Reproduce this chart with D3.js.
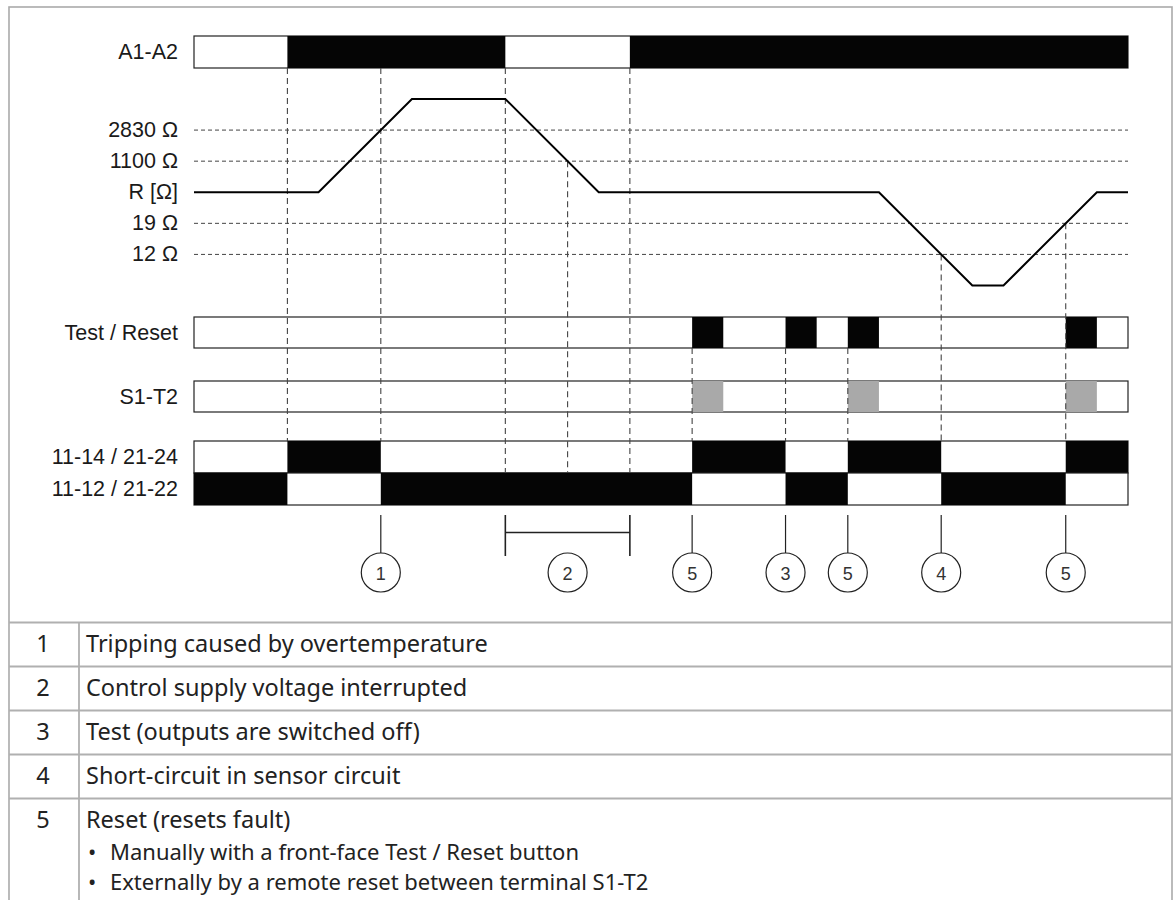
<!DOCTYPE html>
<html>
<head>
<meta charset="utf-8">
<script src="https://cdn.jsdelivr.net/npm/d3@7"></script>
<style>
  body { margin: 0; background: #fff; }
  svg { display: block; }
</style>
</head>
<body>
<svg id="chart"></svg>
<script>
// time axis runs in equal steps, 0..30
const timeSteps = 30;

// signal rows: intervals where the signal is active
const a1a2On = [[3, 10], [14, 30]];
const testResetOn = [[16, 17], [19, 20], [21, 22], [28, 29]];
const s1t2On = [[16, 17], [21, 22], [28, 29]];
const out1114On = [[3, 6], [16, 19], [21, 24], [28, 30]];
const out1112On = [[0, 3], [6, 16], [19, 21], [24, 28]];

// sensor resistance, as [time, level]; level 0 = normal R
const resistance = [[0, 0], [4, 0], [7, 3], [10, 3], [13, 0], [22, 0], [25, -3], [26, -3], [29, 0], [30, 0]];
const levelLabels = [
    { level: 2, label: "2830 Ω" },
    { level: 1, label: "1100 Ω" },
    { level: 0, label: "R [Ω]" },
    { level: -1, label: "19 Ω" },
    { level: -2, label: "12 Ω" }
];
const thresholdLevels = [2, 1, -1, -2];

// dashed guides: time, where they start (row name or resistance level), row where they end
const guides = [
    { t: 3, from: "A1-A2", to: "11-14 / 21-24" },
    { t: 6, from: "A1-A2", to: "11-14 / 21-24" },
    { t: 10, from: "A1-A2", to: "11-12 / 21-22" },
    { t: 12, from: 1, to: "11-12 / 21-22" },
    { t: 14, from: "A1-A2", to: "11-12 / 21-22" },
    { t: 16, from: "Test / Reset", to: "11-14 / 21-24" },
    { t: 19, from: "Test / Reset", to: "11-14 / 21-24" },
    { t: 21, from: "Test / Reset", to: "11-14 / 21-24" },
    { t: 24, from: -2, to: "11-14 / 21-24" },
    { t: 28, from: -1, to: "11-14 / 21-24" }
];

// numbered callouts under the diagram
const markers = [
    { t: 6, label: "1" },
    { t: 16, label: "5" },
    { t: 19, label: "3" },
    { t: 21, label: "5" },
    { t: 24, label: "4" },
    { t: 28, label: "5" }
];
const spanMarker = { t0: 10, t1: 14, label: "2" };

// legend table
const noteNumbers = ["1", "2", "3", "4", "5"];
const noteTexts = [
    "Tripping caused by overtemperature",
    "Control supply voltage interrupted",
    "Test (outputs are switched off)",
    "Short-circuit in sensor circuit",
    "Reset (resets fault)"
];
const resetBullets = [
    "Manually with a front-face Test / Reset button",
    "Externally by a remote reset between terminal S1-T2"
];

const W = 1175, H = 900;
const svg = d3.select("#chart").attr("width", W).attr("height", H);

const x = d3.scaleLinear().domain([0, timeSteps]).range([194, 1128]);
const yLevel = d3.scaleLinear().domain([-3, 3]).range([285.5, 99]);

// row layout
const rows = [
    { name: "A1-A2", top: 36, h: 32, on: a1a2On, fill: "#050505" },
    { name: "Test / Reset", top: 317, h: 31, on: testResetOn, fill: "#050505" },
    { name: "S1-T2", top: 381, h: 31, on: s1t2On, fill: "#a9a9a9" },
    { name: "11-14 / 21-24", top: 441, h: 32, on: out1114On, fill: "#050505" },
    { name: "11-12 / 21-22", top: 473, h: 32, on: out1112On, fill: "#050505" }
];
const rowByName = {};
rows.forEach(r => rowByName[r.name] = r);

const labelFont = "'Liberation Sans', Arial, sans-serif";
const labelSize = 21.5;
const labelX = 178;

// outer frame
svg.append("rect")
    .attr("x", 9).attr("y", 7)
    .attr("width", 1163).attr("height", H + 20)
    .attr("fill", "none")
    .attr("stroke", "#aaa")
    .attr("stroke-width", 1.6);

// threshold dashed lines
svg.append("g").selectAll("line")
    .data(thresholdLevels)
    .join("line")
    .attr("x1", x(0)).attr("x2", x(timeSteps))
    .attr("y1", d => yLevel(d)).attr("y2", d => yLevel(d))
    .attr("stroke", "#444")
    .attr("stroke-width", 1)
    .attr("stroke-dasharray", "4,3");

// signal rows
const rowG = svg.append("g").selectAll("g")
    .data(rows)
    .join("g");

rowG.append("rect")
    .attr("x", x(0)).attr("y", d => d.top)
    .attr("width", x(timeSteps) - x(0)).attr("height", d => d.h)
    .attr("fill", "#fff")
    .attr("stroke", "#222")
    .attr("stroke-width", 1.2);

// guides
svg.append("g").selectAll("line")
    .data(guides)
    .join("line")
    .attr("x1", d => x(d.t)).attr("x2", d => x(d.t))
    .attr("y1", d => typeof d.from === "number" ? yLevel(d.from) : rowByName[d.from].top + rowByName[d.from].h)
    .attr("y2", d => rowByName[d.to].top)
    .attr("stroke", "#444")
    .attr("stroke-width", 1.1)
    .attr("stroke-dasharray", "6,4");

rowG.each(function (r) {
    d3.select(this).selectAll("rect.on")
        .data(r.on)
        .join("rect")
        .attr("class", "on")
        .attr("x", d => x(d[0]))
        .attr("y", r.top)
        .attr("width", d => x(d[1]) - x(d[0]))
        .attr("height", r.h)
        .attr("fill", r.fill);
});

rowG.append("text")
    .attr("x", labelX)
    .attr("y", d => d.top + d.h / 2)
    .attr("text-anchor", "end")
    .attr("dominant-baseline", "central")
    .attr("font-family", labelFont)
    .attr("font-size", labelSize)
    .attr("fill", "#1a1a1a")
    .text(d => d.name);

// resistance labels
svg.append("g").selectAll("text")
    .data(levelLabels)
    .join("text")
    .attr("x", labelX)
    .attr("y", d => yLevel(d.level))
    .attr("text-anchor", "end")
    .attr("dominant-baseline", "central")
    .attr("font-family", labelFont)
    .attr("font-size", labelSize)
    .attr("fill", "#1a1a1a")
    .text(d => d.label);

// resistance curve
const line = d3.line().x(d => x(d[0])).y(d => yLevel(d[1]));
svg.append("path")
    .datum(resistance)
    .attr("d", line)
    .attr("fill", "none")
    .attr("stroke", "#000")
    .attr("stroke-width", 2);

// callouts
const calloutTop = 515, calloutCy = 572.5, calloutR = 19.5;
const callG = svg.append("g").selectAll("g")
    .data(markers)
    .join("g");
callG.append("line")
    .attr("x1", d => x(d.t)).attr("x2", d => x(d.t))
    .attr("y1", calloutTop).attr("y2", calloutCy - calloutR)
    .attr("stroke", "#222").attr("stroke-width", 1.2);

function circleLabel(sel, cx, label) {
    sel.append("circle")
        .attr("cx", cx).attr("cy", calloutCy).attr("r", calloutR)
        .attr("fill", "#fff").attr("stroke", "#222").attr("stroke-width", 1.2);
    sel.append("text")
        .attr("x", cx).attr("y", calloutCy + 1)
        .attr("text-anchor", "middle")
        .attr("dominant-baseline", "central")
        .attr("font-family", labelFont)
        .attr("font-size", 18)
        .attr("fill", "#333")
        .text(label);
}
callG.each(function (d) { circleLabel(d3.select(this), x(d.t), d.label); });

// span callout (2)
const spanG = svg.append("g");
spanG.append("line")
    .attr("x1", x(spanMarker.t0)).attr("x2", x(spanMarker.t1))
    .attr("y1", 532.5).attr("y2", 532.5)
    .attr("stroke", "#222").attr("stroke-width", 1.6);
spanG.selectAll("line.tick")
    .data([spanMarker.t0, spanMarker.t1])
    .join("line")
    .attr("class", "tick")
    .attr("x1", d => x(d)).attr("x2", d => x(d))
    .attr("y1", calloutTop).attr("y2", 556)
    .attr("stroke", "#222").attr("stroke-width", 1.6);
circleLabel(spanG, x((spanMarker.t0 + spanMarker.t1) / 2), spanMarker.label);

// legend table
const tableFont = "'Noto Sans', 'Open Sans', sans-serif";
const tableTop = 622.5, rowH = 44, colX = 79;
const tableLineColor = "#b0b0b0";

const sepY = d3.range(noteNumbers.length).map(i => tableTop + i * rowH);
svg.append("g").selectAll("line")
    .data(sepY)
    .join("line")
    .attr("x1", 9).attr("x2", 1172)
    .attr("y1", d => d).attr("y2", d => d)
    .attr("stroke", tableLineColor).attr("stroke-width", 1.8);
svg.append("line")
    .attr("x1", colX).attr("x2", colX)
    .attr("y1", tableTop).attr("y2", H)
    .attr("stroke", tableLineColor).attr("stroke-width", 1.8);

const noteG = svg.append("g")
    .attr("font-family", tableFont)
    .attr("font-size", 23.5)
    .attr("fill", "#222");

noteG.selectAll("text.num")
    .data(noteNumbers)
    .join("text")
    .attr("class", "num")
    .attr("x", 43)
    .attr("y", (d, i) => tableTop + i * rowH + 20)
    .attr("text-anchor", "middle")
    .attr("dominant-baseline", "central")
    .text(d => d);

noteG.selectAll("text.note")
    .data(noteTexts)
    .join("text")
    .attr("class", "note")
    .attr("x", 86)
    .attr("y", (d, i) => tableTop + i * rowH + 20)
    .attr("dominant-baseline", "central")
    .text(d => d);

// bullet list under note 5
const bulletTop = tableTop + 4 * rowH + 52, bulletStep = 30;
const bulletG = noteG.selectAll("g.bullet")
    .data(resetBullets)
    .join("g")
    .attr("class", "bullet")
    .attr("font-size", 22)
    .attr("transform", (d, i) => `translate(0,${bulletTop + i * bulletStep})`);
bulletG.append("text")
    .attr("x", 88)
    .attr("dominant-baseline", "central")
    .text("•");
bulletG.append("text")
    .attr("x", 110)
    .attr("dominant-baseline", "central")
    .text(d => d);
</script>
</body>
</html>
